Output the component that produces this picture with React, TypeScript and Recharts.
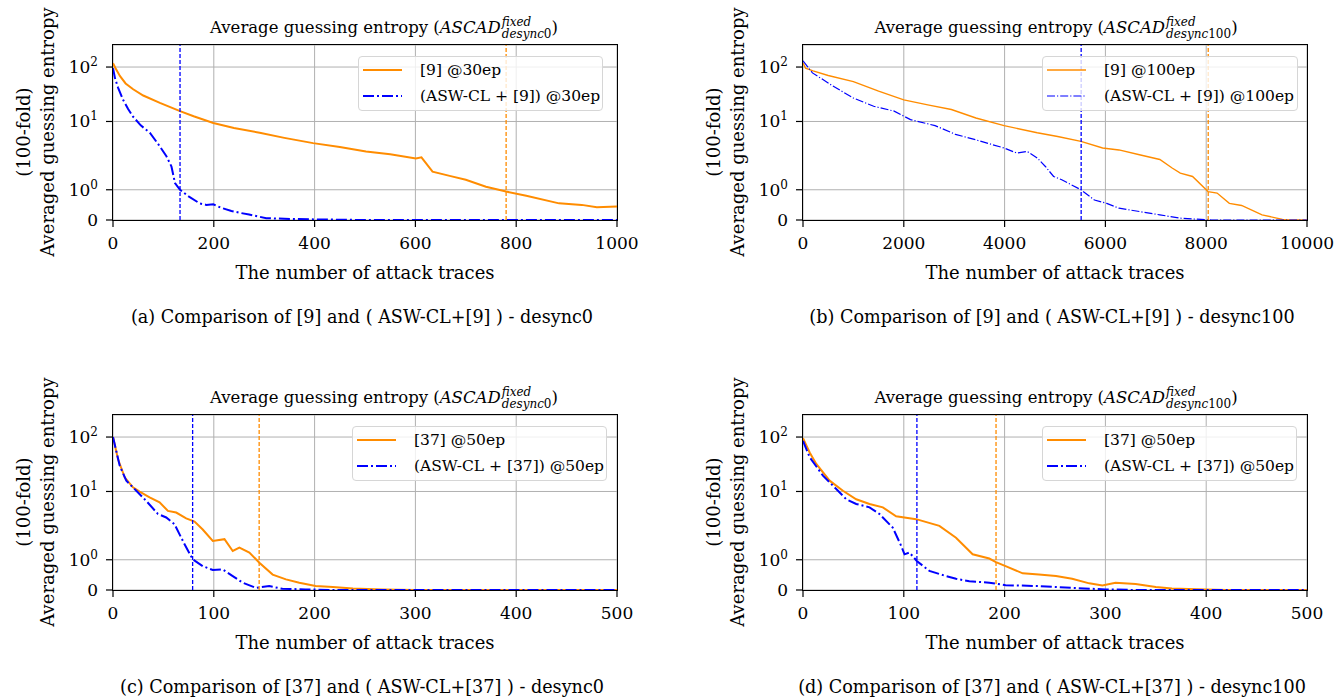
import React from "react";
import { LineChart, Line, XAxis, YAxis, CartesianGrid, ReferenceLine } from "recharts";

const FONT = "'DejaVu Serif', serif";
const ORANGE = "#ff8c00";
const BLUE = "#0000ff";

// matplotlib symlog: linthresh 2, linscale 1, base 10
const LIN = 1 / (1 - 1 / 10);
const symlog = (v: number) => (v <= 2 ? v * LIN : 2 * (LIN + Math.log10(v / 2)));

const yTickValues = [0, 1, 10, 100];
const yTickExps: (number | null)[] = [null, 0, 1, 2];
const Y_TOP = 6.43;

// (a) desync0, [9] @30ep
const aTicks = [0, 200, 400, 600, 800, 1000];
const aOrangeX = [0, 5, 14, 25, 40, 60, 93, 133, 160, 199, 240, 291, 340, 397, 450, 502, 550, 601, 612, 634, 670, 700, 740, 780, 820, 885, 930, 960, 1000];
const aOrangeY = [118, 95, 68, 50, 39, 30, 22, 15.5, 12.5, 9.4, 7.6, 6.2, 5.0, 4.0, 3.4, 2.8, 2.5, 2.1, 2.2, 1.6, 1.45, 1.33, 1.1, 0.94, 0.8, 0.55, 0.5, 0.42, 0.45];
const aBlueX = [0, 4, 10, 20, 30, 40, 55, 73, 90, 106, 116, 123, 133, 150, 172, 185, 199, 215, 235, 251, 270, 304, 340, 400, 500, 1000];
const aBlueY = [95, 62, 42, 25, 17, 12.2, 8.5, 6.2, 3.8, 2.3, 1.77, 1.22, 1.0, 0.78, 0.55, 0.5, 0.52, 0.4, 0.3, 0.24, 0.18, 0.06, 0.04, 0.02, 0, 0];

// (b) desync100, [9] @100ep
const bTicks = [0, 2000, 4000, 6000, 8000, 10000];
const bOrangeX = [0, 50, 200, 500, 1000, 1500, 2000, 2500, 2944, 3431, 3990, 4647, 5053, 5515, 5945, 6269, 6675, 7080, 7324, 7486, 7729, 8037, 8216, 8459, 8702, 9108, 9513, 9650, 10000];
const bOrangeY = [120, 95, 85, 70, 54, 36, 25, 20, 16.6, 11.6, 8.4, 6.2, 5.3, 4.3, 3.25, 3.0, 2.45, 2.0, 1.72, 1.55, 1.44, 0.94, 0.89, 0.55, 0.48, 0.17, 0.02, 0, 0];
const bBlueX = [0, 187, 592, 998, 1403, 1809, 2133, 2620, 3025, 3431, 3990, 4242, 4444, 4647, 4809, 4972, 5134, 5515, 5783, 6026, 6269, 6675, 7080, 7486, 7891, 8100, 10000];
const bBlueY = [130, 78, 45, 27, 19, 15.5, 10.8, 8.4, 5.8, 4.6, 3.25, 2.63, 2.82, 2.14, 1.77, 1.44, 1.33, 1.0, 0.66, 0.55, 0.39, 0.28, 0.17, 0.06, 0.02, 0, 0];

// (c) desync0, [37] @50ep
const cTicks = [0, 100, 200, 300, 400, 500];
const cOrangeX = [0, 5, 11.6, 19.8, 26.4, 36.3, 46.2, 54.5, 62.7, 72.6, 80.9, 89, 99, 110.6, 118.8, 125.4, 135.3, 145.2, 158.4, 171.6, 184.8, 201, 218, 238, 267, 300, 500];
const cOrangeY = [100, 39, 18.2, 11.9, 9.9, 7.8, 6.3, 4.4, 4.1, 3.2, 2.8, 2.0, 1.62, 1.68, 1.29, 1.4, 1.24, 0.9, 0.51, 0.35, 0.24, 0.13, 0.1, 0.05, 0.02, 0, 0];
const cBlueX = [0, 6.6, 13.2, 23.1, 33, 44.6, 52.8, 61, 71, 79.2, 89, 99, 108.9, 118.8, 128.7, 142, 155, 168, 191, 220, 500];
const cBlueY = [100, 30, 15.8, 10.3, 6.7, 3.85, 3.33, 2.51, 1.51, 1.01, 0.79, 0.66, 0.68, 0.46, 0.24, 0.07, 0.13, 0.04, 0.02, 0, 0];

// (d) desync100, [37] @50ep
const dTicks = [0, 100, 200, 300, 400, 500];
const dOrangeX = [0, 6.6, 13.2, 26.4, 39.6, 52.8, 66, 79.2, 92.4, 112.2, 135.3, 151.8, 168.3, 184.8, 191.4, 201, 218, 234, 251, 267, 284, 297, 310, 330, 350, 366, 399, 420, 500];
const dOrangeY = [95, 52, 32, 15.8, 10.3, 7.2, 5.9, 5.1, 3.5, 3.1, 2.33, 1.73, 1.18, 1.04, 0.92, 0.79, 0.55, 0.51, 0.46, 0.37, 0.22, 0.15, 0.24, 0.2, 0.1, 0.05, 0.02, 0, 0];
const dBlueX = [0, 6.6, 19.8, 33, 42.9, 52.8, 66, 75.9, 89, 97.4, 100.7, 105.6, 112.9, 125.4, 142, 151.8, 165, 184.8, 201, 234, 267, 300, 330, 500];
const dBlueY = [85, 42.7, 19.5, 11.1, 7.2, 5.9, 5.1, 3.85, 2.17, 1.46, 1.18, 1.24, 0.96, 0.63, 0.46, 0.37, 0.29, 0.24, 0.16, 0.13, 0.07, 0.02, 0, 0];

const toRows = (xs: number[], ys: number[]) => xs.map((x, i) => ({ x, y: symlog(ys[i]) }));

const CHART_W = 669;
const CHART_H = 340;
const PLOT = { left: 113, top: 45, width: 504, height: 175 };

function YTick(props: any) {
  const { x, y, payload } = props;
  const i = yTickValues.findIndex((v) => Math.abs(symlog(v) - payload.value) < 1e-6);
  const exp = yTickExps[i];
  return (
    <text x={x - 6} y={y + 6} textAnchor="end" fontFamily={FONT} fontSize={17} fill="#000">
      {exp === null ? "0" : (
        <>
          10<tspan dy={-7} fontSize={12}>{exp}</tspan>
        </>
      )}
    </text>
  );
}

function XTick(props: any) {
  const { x, y, payload } = props;
  return (
    <text x={x} y={y + 20} textAnchor="middle" fontFamily={FONT} fontSize={17} fill="#000">
      {payload.value}
    </text>
  );
}

function Title({ desync }: { desync: string }) {
  return (
    <span>
      Average guessing entropy (<i>ASCAD</i>
      <span style={{ display: "inline-flex", flexDirection: "column", verticalAlign: 7, fontSize: 12, lineHeight: "12px", marginLeft: 1 }}>
        <i>fixed</i>
        <span><i>desync</i>{desync}</span>
      </span>)
    </span>
  );
}

function Handle({ color, width, dash }: { color: string; width: number; dash?: string }) {
  return (
    <svg width={40} height={10} style={{ position: "absolute", left: 4, top: -5 }}>
      <line x1={0} y1={5} x2={39} y2={5} stroke={color} strokeWidth={width} strokeDasharray={dash} />
    </svg>
  );
}

type PanelProps = {
  left: number;
  top: number;
  xTicks: number[];
  orange: { x: number; y: number }[];
  blue: { x: number; y: number }[];
  refBlue: number;
  refOrange: number;
  orangeName: string;
  blueName: string;
  caption: string;
  desync: string;
  titleCenter: number;
  legendLeft: number;
  legendWidth: number;
  orangeWidth: number;
  blueWidth: number;
  blueDash: string;
};

function Panel(p: PanelProps) {
  const xMax = p.xTicks[p.xTicks.length - 1];
  const text: React.CSSProperties = { position: "absolute", whiteSpace: "nowrap", fontFamily: FONT, color: "#000" };
  return (
    <div style={{ position: "absolute", left: p.left, top: p.top, width: CHART_W, height: CHART_H }}>
      <LineChart width={CHART_W} height={CHART_H} margin={{ top: 45, right: 52, bottom: 90, left: 0 }}>
        <CartesianGrid stroke="#b0b0b0" strokeWidth={1} />
        <XAxis
          dataKey="x"
          type="number"
          domain={[0, xMax]}
          ticks={p.xTicks}
          allowDataOverflow
          axisLine={false}
          tickLine={{ stroke: "#000", strokeWidth: 1.2 }}
          tickSize={7}
          height={30}
          tick={<XTick />}
        />
        <YAxis
          type="number"
          domain={[0, Y_TOP]}
          ticks={yTickValues.map(symlog)}
          allowDataOverflow
          axisLine={false}
          tickLine={{ stroke: "#000", strokeWidth: 1.2 }}
          tickSize={7}
          width={113}
          tick={<YTick />}
        />
        <Line data={p.orange} dataKey="y" type="linear" dot={false} stroke={ORANGE} strokeWidth={p.orangeWidth} isAnimationActive={false} />
        <Line data={p.blue} dataKey="y" type="linear" dot={false} stroke={BLUE} strokeWidth={p.blueWidth} strokeDasharray={p.blueDash} isAnimationActive={false} />
        <ReferenceLine x={p.refBlue} stroke={BLUE} strokeDasharray="4 2" strokeWidth={1.3} />
        <ReferenceLine x={p.refOrange} stroke={ORANGE} strokeDasharray="4 2" strokeWidth={1.3} />
      </LineChart>

      {/* axes frame */}
      <div
        style={{
          position: "absolute",
          left: PLOT.left - 0.75,
          top: PLOT.top - 0.75,
          width: PLOT.width + 1.5,
          height: PLOT.height + 1.5,
          boxSizing: "border-box",
          border: "1.5px solid #000",
          pointerEvents: "none",
        }}
      />

      <div style={{ ...text, left: p.titleCenter, top: 28, fontSize: 16.5, transform: "translate(-50%, -50%)" }}>
        <Title desync={p.desync} />
      </div>

      <div style={{ ...text, left: 23, top: 132, fontSize: 18, transform: "translate(-50%, -50%) rotate(-90deg)" }}>(100-fold)</div>
      <div style={{ ...text, left: 47, top: 132, fontSize: 18, transform: "translate(-50%, -50%) rotate(-90deg)" }}>Averaged guessing entropy</div>
      <div style={{ ...text, left: 365, top: 272, fontSize: 18, transform: "translate(-50%, -50%)" }}>The number of attack traces</div>
      <div style={{ ...text, left: 362, top: 317, fontSize: 17.6, transform: "translate(-50%, -50%)" }}>{p.caption}</div>

      <div
        style={{
          position: "absolute",
          left: p.legendLeft,
          top: 56,
          width: p.legendWidth,
          height: 55,
          boxSizing: "border-box",
          border: "1px solid #d6d6d6",
          borderRadius: 4,
          background: "rgba(255,255,255,0.8)",
          fontFamily: FONT,
          fontSize: 15.5,
        }}
      >
        <div style={{ position: "absolute", left: 0, top: 13 }}>
          <Handle color={ORANGE} width={p.orangeWidth} />
          <span style={{ position: "absolute", left: 61, top: -10, whiteSpace: "nowrap", lineHeight: "20px" }}>{p.orangeName}</span>
        </div>
        <div style={{ position: "absolute", left: 0, top: 39 }}>
          <Handle color={BLUE} width={p.blueWidth} dash={p.blueDash} />
          <span style={{ position: "absolute", left: 61, top: -10, whiteSpace: "nowrap", lineHeight: "20px" }}>{p.blueName}</span>
        </div>
      </div>
    </div>
  );
}

export default function App() {
  return (
    <div style={{ position: "absolute", left: 0, top: 0, width: 1339, height: 700, background: "#fff" }}>
      <Panel
        left={0}
        top={0}
        xTicks={aTicks}
        orange={toRows(aOrangeX, aOrangeY)}
        blue={toRows(aBlueX, aBlueY)}
        refBlue={133}
        refOrange={780}
        orangeName="[9] @30ep"
        blueName="(ASW-CL + [9]) @30ep"
        caption="(a) Comparison of [9] and ( ASW-CL+[9] ) - desync0"
        desync="0"
        titleCenter={384}
        legendLeft={358}
        legendWidth={245}
        orangeWidth={2}
        blueWidth={2}
        blueDash="11 3 2 3"
      />
      <Panel
        left={690}
        top={0}
        xTicks={bTicks}
        orange={toRows(bOrangeX, bOrangeY)}
        blue={toRows(bBlueX, bBlueY)}
        refBlue={5519}
        refOrange={8040}
        orangeName="[9] @100ep"
        blueName="(ASW-CL + [9]) @100ep"
        caption="(b) Comparison of [9] and ( ASW-CL+[9] ) - desync100"
        desync="100"
        titleCenter={366}
        legendLeft={352}
        legendWidth={256}
        orangeWidth={1.4}
        blueWidth={1.2}
        blueDash="8 2 1.2 2"
      />
      <Panel
        left={0}
        top={370}
        xTicks={cTicks}
        orange={toRows(cOrangeX, cOrangeY)}
        blue={toRows(cBlueX, cBlueY)}
        refBlue={79}
        refOrange={145}
        orangeName="[37] @50ep"
        blueName="(ASW-CL + [37]) @50ep"
        caption="(c) Comparison of [37] and ( ASW-CL+[37] ) - desync0"
        desync="0"
        titleCenter={384}
        legendLeft={352}
        legendWidth={255}
        orangeWidth={2}
        blueWidth={2}
        blueDash="11 3 2 3"
      />
      <Panel
        left={690}
        top={370}
        xTicks={dTicks}
        orange={toRows(dOrangeX, dOrangeY)}
        blue={toRows(dBlueX, dBlueY)}
        refBlue={113}
        refOrange={191.5}
        orangeName="[37] @50ep"
        blueName="(ASW-CL + [37]) @50ep"
        caption="(d) Comparison of [37] and ( ASW-CL+[37] ) - desync100"
        desync="100"
        titleCenter={366}
        legendLeft={352}
        legendWidth={255}
        orangeWidth={2}
        blueWidth={2}
        blueDash="11 3 2 3"
      />
    </div>
  );
}
